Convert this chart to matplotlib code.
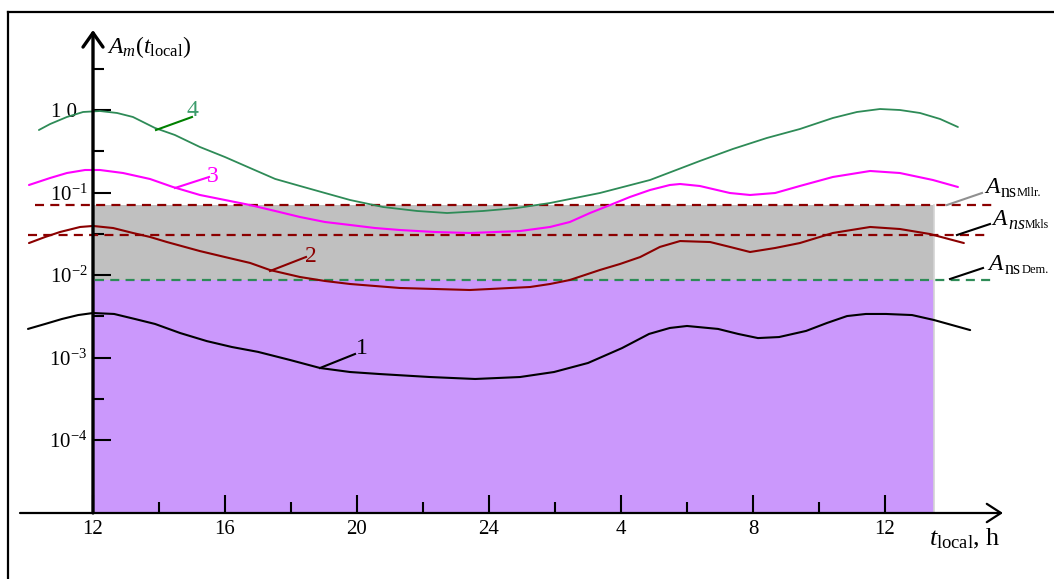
import matplotlib
matplotlib.use('Agg')
import matplotlib.pyplot as plt
from matplotlib.transforms import Affine2D
from matplotlib.lines import Line2D
from matplotlib.ticker import FixedLocator, NullFormatter

plt.rcParams['font.family'] = ['Liberation Serif', 'DejaVu Serif']
plt.rcParams['mathtext.fontset'] = 'custom'
plt.rcParams['mathtext.rm'] = 'Liberation Serif'
plt.rcParams['mathtext.it'] = 'Liberation Serif:italic'
plt.rcParams['mathtext.bf'] = 'Liberation Serif:bold'
plt.rcParams['lines.scale_dashes'] = False

# ---------------- data (local time in hours, 12 -> next day's 12 = 36) ----------------
hours_1 = [10.03, 10.55, 11.06, 11.55, 12.0, 12.64, 13.27, 13.88, 14.64, 15.45, 16.21,
           17.0, 17.97, 18.88, 19.79, 20.67, 22.21, 23.58, 24.94, 25.97, 27.0, 28.03,
           28.85, 29.48, 30.0, 30.94, 31.55, 32.15, 32.79, 33.61, 34.24, 34.85, 35.42,
           36.03, 36.82, 37.48, 38.58]
A_1 = [0.00222, 0.00255, 0.00293, 0.00327, 0.00346, 0.00337, 0.00293, 0.00255, 0.00198,
       0.00158, 0.00134, 0.00117, 0.000933, 0.000746, 0.000667, 0.000631, 0.000580,
       0.000549, 0.000580, 0.000667, 0.000858, 0.00130, 0.00193, 0.00228, 0.00241,
       0.00222, 0.00193, 0.00172, 0.00177, 0.00210, 0.00262, 0.00318, 0.00337, 0.00337,
       0.00327, 0.00285, 0.00215]

hours_2 = [10.06, 10.55, 11.0, 11.61, 12.0, 12.61, 13.21, 13.73, 14.24, 15.24, 16.0,
           16.76, 17.36, 18.27, 19.03, 19.79, 21.30, 23.42, 25.24, 25.85, 26.45, 27.36,
           27.97, 28.58, 29.18, 29.79, 30.70, 31.30, 31.91, 32.67, 33.42, 34.42, 35.55,
           36.45, 37.36, 38.39]
A_2 = [0.0244, 0.0289, 0.0332, 0.0382, 0.0393, 0.0371, 0.0323, 0.0289, 0.0251, 0.0195,
       0.0165, 0.0140, 0.0115, 0.00946, 0.00846, 0.00778, 0.00696, 0.00658, 0.00715,
       0.00778, 0.00870, 0.0115, 0.0136, 0.0165, 0.0219, 0.0258, 0.0251, 0.0219, 0.0190,
       0.02125, 0.0244, 0.0323, 0.0382, 0.0361, 0.0314, 0.0244]

hours_3 = [10.06, 10.70, 11.21, 11.76, 12.21, 12.91, 13.73, 14.42, 15.24, 16.0, 16.76,
           17.52, 18.27, 19.03, 19.79, 20.55, 21.30, 22.36, 23.42, 24.94, 25.85, 26.45,
           27.06, 27.67, 28.27, 28.88, 29.48, 29.79, 30.39, 30.91, 31.30, 31.91, 32.67,
           33.42, 34.42, 35.55, 36.45, 37.45, 38.21]
A_3 = [0.1233, 0.1499, 0.1723, 0.1874, 0.1874, 0.1723, 0.1457, 0.1166, 0.0933, 0.0811,
       0.0705, 0.0597, 0.0505, 0.0439, 0.0404, 0.0371, 0.0351, 0.0332, 0.0323, 0.0341,
       0.0382, 0.0439, 0.0564, 0.0705, 0.0882, 0.1072, 0.1233, 0.1268, 0.1199, 0.1072,
       0.0986, 0.0933, 0.0986, 0.1199, 0.1542, 0.1823, 0.1723, 0.1418, 0.1166]

hours_4 = [10.36, 10.70, 11.21, 11.70, 12.21, 12.73, 13.21, 13.88, 14.48, 15.24, 16.0,
           16.76, 17.52, 18.27, 19.03, 19.79, 20.79, 21.82, 22.73, 23.82, 24.85, 25.85,
           27.36, 28.88, 30.39, 31.39, 32.42, 33.42, 34.42, 35.15, 35.85, 36.45, 37.06,
           37.67, 38.21]
A_4 = [0.572, 0.676, 0.823, 0.946, 0.972, 0.920, 0.823, 0.605, 0.498, 0.356, 0.269,
       0.198, 0.146, 0.120, 0.0986, 0.0811, 0.0667, 0.0597, 0.0564, 0.0597, 0.0649,
       0.0746, 0.0986, 0.1418, 0.241, 0.337, 0.458, 0.588, 0.800, 0.946, 1.028, 1.0,
       0.920, 0.778, 0.622]

A_ns_Mllr = 0.0706
A_ns_Mkls = 0.0305
A_ns_Dem = 0.0087
shade_start_hour = 12.0
shade_end_hour = 37.48

x_major = [12, 16, 20, 24, 28, 32, 36]
x_labels = ['12', '16', '20', '24', '4', '8', '12']
x_minor = [14, 18, 22, 26, 30, 34]
y_major = [1.0, 1e-1, 1e-2, 1e-3, 1e-4]
y_labels = ['1 0  ', r'$10^{-1}$', r'$10^{-2}$', r'$10^{-3}$', r'$10^{-4}$']
y_minor = [10 ** 0.5, 10 ** -0.5, 10 ** -1.5, 10 ** -2.5, 10 ** -3.5]

# ---------------- layout ----------------
W, H = 1054, 579
PX_PER_H = 33.0
PX_PER_DEC = 82.5
X0, Y0 = 93, 110      # pixel of (12 h, 10^0)

fig = plt.figure(figsize=(W / 100, H / 100), dpi=100)
fig.patch.set_facecolor('white')
ax = fig.add_axes([0, 0, 1, 1])
ax.set_yscale('log')
ax.set_xlim(12 - X0 / PX_PER_H, 12 + (W - X0) / PX_PER_H)
ax.set_ylim(10 ** (-(H - Y0) / PX_PER_DEC), 10 ** (Y0 / PX_PER_DEC))

def hx(px):
    return 12 + (px - X0) / PX_PER_H

def ay(py):
    return 10 ** (-(py - Y0) / PX_PER_DEC)

y_axis_bottom = ay(513)
y_axis_top = ay(30)
x_axis_left = hx(20)
x_axis_right = hx(1003)

for s in ax.spines.values():
    s.set_visible(False)
ax.spines['left'].set_position(('data', 12))
ax.spines['bottom'].set_position(('data', y_axis_bottom))

# shaded regions
ax.fill_between([shade_start_hour, shade_end_hour], A_ns_Dem, A_ns_Mllr,
                color='#c0c0c0', lw=0, zorder=1)
ax.fill_between([shade_start_hour, shade_end_hour], y_axis_bottom, A_ns_Dem,
                color='#cb98fc', lw=0, zorder=1)
ax.plot([shade_end_hour, shade_end_hour], [y_axis_bottom, A_ns_Mllr],
        color='#d4d4d4', lw=1.2, zorder=1.5)

# threshold dashed lines
dash = (0, (6.5, 4.5))
ax.plot([hx(35), hx(995)], [A_ns_Mllr, A_ns_Mllr], color='#8b0000', lw=1.6, ls=dash, zorder=3)
ax.plot([hx(28), hx(987)], [A_ns_Mkls, A_ns_Mkls], color='#8b0000', lw=1.6, ls=dash, zorder=3)
ax.plot([hx(95), hx(995)], [A_ns_Dem, A_ns_Dem], color='#2e8b57', lw=1.6, ls=dash, zorder=3)

# curves
kw = dict(solid_joinstyle='round', solid_capstyle='round', zorder=4)
ax.plot(hours_4, A_4, color='#2e8b57', lw=1.3, **kw)
ax.plot(hours_3, A_3, color='#ff00ff', lw=1.5, **kw)
ax.plot(hours_2, A_2, color='#8b0000', lw=1.5, **kw)
ax.plot(hours_1, A_1, color='black', lw=1.5, **kw)

# axes with arrows
ax.annotate('', xy=(x_axis_right, y_axis_bottom), xytext=(x_axis_left, y_axis_bottom),
            arrowprops=dict(arrowstyle='->,head_length=0.85,head_width=0.55', lw=1.6,
                            color='black', shrinkA=0, shrinkB=0, mutation_scale=12),
            zorder=5)
ax.annotate('', xy=(12, y_axis_top), xytext=(12, y_axis_bottom),
            arrowprops=dict(arrowstyle='->,head_length=0.85,head_width=0.6', lw=2.4,
                            color='black', shrinkA=0, shrinkB=0, mutation_scale=12),
            zorder=5)

# ticks
ax.xaxis.set_major_locator(FixedLocator(x_major))
ax.xaxis.set_minor_locator(FixedLocator(x_minor))
ax.set_xticklabels(x_labels)
ax.xaxis.set_minor_formatter(NullFormatter())
ax.yaxis.set_major_locator(FixedLocator(y_major))
ax.yaxis.set_minor_locator(FixedLocator(y_minor))
ax.set_yticklabels(y_labels)
ax.yaxis.set_minor_formatter(NullFormatter())
ax.tick_params(which='both', direction='in', top=False, right=False, width=1.5,
               color='black', labelsize=15)
ax.tick_params(which='major', length=13)
ax.tick_params(which='minor', length=8)
ax.tick_params(axis='x', which='major', pad=5)
ax.tick_params(axis='y', which='major', pad=4)
for t in ax.yaxis.get_major_ticks() + ax.xaxis.get_major_ticks():
    t.tick1line.set_zorder(6)

# pixel-space transform for annotations
T = Affine2D().scale(1 / W, -1 / H).translate(0, 1) + fig.transFigure

def line(xs, ys, color, lw=1.5):
    fig.add_artist(Line2D(xs, ys, color=color, lw=lw, transform=T, zorder=7))

def txt(x, y, s, size, color='black', **kw):
    fig.text(x, y, s, fontsize=size, color=color, transform=T,
             ha=kw.pop('ha', 'left'), va=kw.pop('va', 'baseline'), **kw)

# frame
line([8, 8], [12, H], 'black', 1.6)
line([8, W], [12, 12], 'black', 1.6)

# axis titles
txt(107, 53, r'$A_m(t_{\mathrm{local}})$', 17)
txt(929, 545, r'$t_{\mathrm{local}}$, h', 19)

# curve labels
line([156, 192], [130, 117], '#008000')
txt(192, 110, '4', 17, '#3c9c6c', ha='center', va='center')
line([175, 209], [188, 177], '#ff00ff')
txt(213, 176, '3', 17, '#ff00ff', ha='center', va='center')
line([270, 306], [271, 257], '#8b0000')
txt(311, 256, '2', 17, '#8b0000', ha='center', va='center')
line([320, 355], [368, 354], 'black')
txt(362, 349, '1', 17, 'black', ha='center', va='center')

# threshold labels
line([947, 982], [205, 193], '#909090')
txt(984, 193, r'$A$', 17)
txt(1001, 197, 'ns', 13)
txt(1017, 196, 'Mllr.', 9)

line([957, 990], [235, 224], 'black')
txt(991, 225, r'$A$', 17)
txt(1008, 229, r'$\mathit{ns}$', 13)
txt(1025, 228, 'Mkls', 8.5)

line([950, 983], [279, 268], 'black')
txt(987, 270, r'$A$', 17)
txt(1005, 274, 'ns', 13)
txt(1022, 273, 'Dem.', 9)

fig.savefig('out.png', dpi=100)
